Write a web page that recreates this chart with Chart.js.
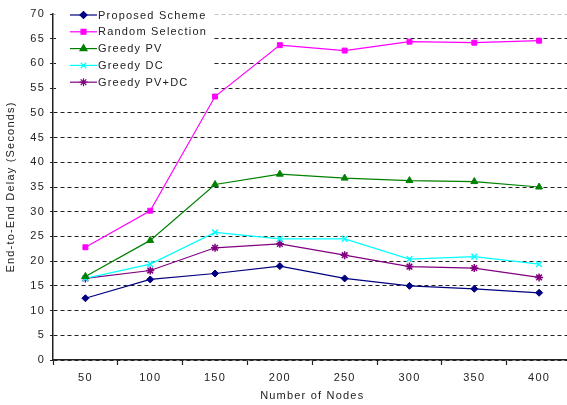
<!DOCTYPE html>
<html lang="en">
<head>
<meta charset="UTF-8">
<script src="https://cdn.jsdelivr.net/npm/chart.js@4.4.1/dist/chart.umd.min.js"></script>
<title>End-to-End Delay</title>
<style>
  html, body { margin: 0; padding: 0; background: #fff; overflow: hidden; }
  #delayChart { display: block; width: 577px; height: 405px; }
</style>
</head>
<body>
<canvas id="delayChart" width="577" height="405"></canvas>
<script>
// data
const nodes = ['50', '100', '150', '200', '250', '300', '350', '400'];
const proposed = [12.5, 16.3, 17.5, 19.0, 16.5, 15.0, 14.4, 13.6];
const randomSel = [22.8, 30.2, 53.3, 63.7, 62.6, 64.4, 64.2, 64.6];
const greedyPV = [16.9, 24.2, 35.5, 37.6, 36.8, 36.3, 36.1, 35.0];
const greedyDC = [16.5, 19.4, 25.8, 24.5, 24.5, 20.4, 20.9, 19.4];
const greedyPVDC = [16.5, 18.1, 22.7, 23.5, 21.2, 18.9, 18.6, 16.7];
const seriesNames = ['Proposed Scheme', 'Random Selection', 'Greedy PV', 'Greedy DC', 'Greedy PV+DC'];
const yMin = 0, yMax = 70, yStep = 5;

const FONT = "'Liberation Sans', Arial, sans-serif";
const SPACING = '1.2px';

function series(label, data, color, style, radius, bw) {
  return {
    label: label,
    data: data,
    borderColor: color,
    backgroundColor: color,
    borderWidth: 1.2,
    pointStyle: style,
    pointRadius: radius,
    pointBorderWidth: bw,
    pointBackgroundColor: color,
    pointBorderColor: color,
    tension: 0
  };
}

// keep the wide letter spacing of the original
const spacingPlugin = {
  id: 'spacing',
  beforeLayout(chart) { chart.ctx.letterSpacing = SPACING; },
  beforeDraw(chart) { chart.ctx.letterSpacing = SPACING; }
};

// legend drawn inside the plot, top left
const innerLegend = {
  id: 'innerLegend',
  afterDraw(chart) {
    const ctx = chart.ctx;
    ctx.save();
    ctx.fillStyle = '#fff';
    ctx.fillRect(56, 6, 156, 88);
    chart.data.datasets.forEach((ds, i) => {
      const y = 15 + i * 16.8;
      ctx.strokeStyle = ds.borderColor;
      ctx.lineWidth = 1.2;
      ctx.setLineDash([]);
      ctx.beginPath();
      ctx.moveTo(70, y);
      ctx.lineTo(97, y);
      ctx.stroke();
      ctx.fillStyle = ds.borderColor;
      Chart.helpers.drawPoint(ctx, {
        pointStyle: ds.pointStyle,
        radius: ds.pointRadius,
        rotation: 0,
        borderWidth: ds.pointBorderWidth
      }, 83.5, y);
      ctx.fillStyle = '#222';
      ctx.font = '11px ' + FONT;
      ctx.textBaseline = 'middle';
      ctx.textAlign = 'left';
      ctx.fillText(ds.label, 98, y + 0.5);
    });
    ctx.restore();
  }
};

const ctx = document.getElementById('delayChart').getContext('2d');
const delayChart = new Chart(ctx, {
  type: 'line',
  data: {
    labels: nodes,
    datasets: [
      series(seriesNames[0], proposed, '#000080', 'rectRot', 3.5, 1),
      series(seriesNames[1], randomSel, '#ff00ff', 'rect', 3.5, 1),
      series(seriesNames[2], greedyPV, '#008000', 'triangle', 4, 1),
      series(seriesNames[3], greedyDC, '#00ffff', 'crossRot', 4, 1.5),
      series(seriesNames[4], greedyPVDC, '#800080', 'star', 4, 1.5)
    ]
  },
  options: {
    responsive: false,
    animation: false,
    layout: { padding: { top: 14, right: 0, left: 0, bottom: 0 } },
    plugins: {
      legend: { display: false },
      tooltip: { enabled: false }
    },
    scales: {
      x: {
        offset: true,
        afterFit(scale) { scale.height = 45; },
        grid: {
          offset: true,
          drawOnChartArea: false,
          drawTicks: true,
          tickLength: 5,
          tickColor: '#222',
          tickWidth: 1.2
        },
        border: { color: '#222', width: 1.5 },
        ticks: { color: '#222', font: { family: FONT, size: 11 }, padding: 6, maxRotation: 0 },
        title: {
          display: true,
          text: 'Number of Nodes',
          color: '#222',
          font: { family: FONT, size: 11 },
          padding: { top: 0, bottom: 2 }
        }
      },
      y: {
        min: yMin,
        max: yMax,
        afterFit(scale) { scale.width = 53; },
        grid: {
          color: c => (c.tick && c.tick.value === yMax) ? '#c4c4c4' : '#222',
          lineWidth: 1,
          drawTicks: true,
          tickLength: 3,
          tickColor: '#222',
          tickBorderDash: []
        },
        border: { color: '#222', width: 1.5, dash: [4, 3] },
        ticks: {
          stepSize: yStep,
          color: '#222',
          font: { family: FONT, size: 11 },
          padding: 5
        },
        title: {
          display: true,
          text: 'End-to-End Delay (Seconds)',
          color: '#222',
          font: { family: FONT, size: 11 },
          padding: { top: 4, bottom: 0 }
        }
      }
    }
  },
  plugins: [spacingPlugin, innerLegend]
});
</script>
</body>
</html>
